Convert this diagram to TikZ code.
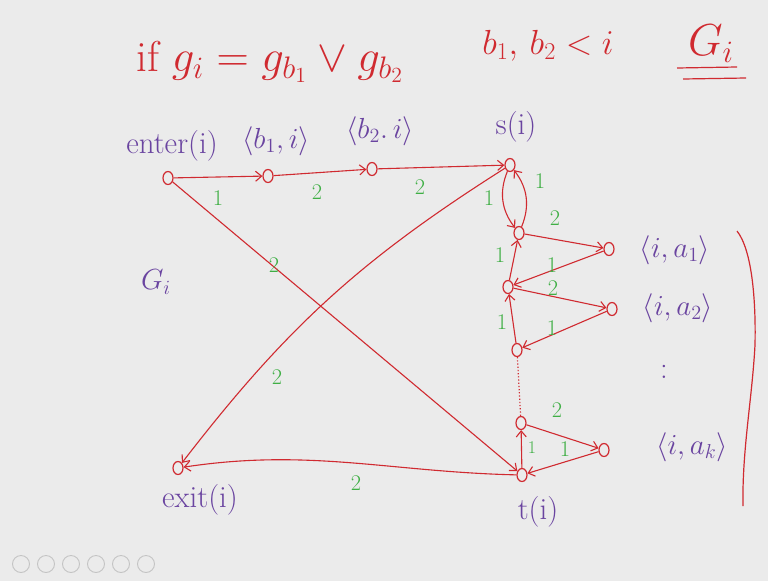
\documentclass[tikz,border=0pt]{standalone}
\usetikzlibrary{arrows.meta,shapes.geometric}
\definecolor{bg}{HTML}{EBEBEB}
\definecolor{ink}{HTML}{D02A30}
\definecolor{pur}{HTML}{6A44A0}
\definecolor{grn}{HTML}{3FAF45}
\definecolor{btn}{HTML}{C4C4C4}
\begin{document}
\begin{tikzpicture}[x=1pt,y=-1pt,
  vtx/.style={ellipse,draw=ink,line width=1.2pt,minimum width=10pt,minimum height=13pt,inner sep=0pt},
  arr/.style={draw=ink,line width=1.1pt,-{Straight Barb[length=6pt,width=10pt]}},
  lbl/.style={text=grn,font=\fontsize{16}{16}\selectfont,scale=1.4},
  ptxt/.style={text=pur,font=\fontsize{22}{22}\selectfont,scale=1.4},
  rtxt/.style={text=ink,font=\fontsize{24}{24}\selectfont}]
\fill[bg] (0,0) rectangle (768,581);
\useasboundingbox (0,0) rectangle (768,581);
% header
\node[rtxt,scale=1.8] (cond) at (270,62) {if $g_i = g_{b_1} \vee g_{b_2}$};
\node[rtxt,scale=1.4] (bb) at (548,46) {$b_1,\, b_2 < i$};
\node[rtxt,scale=1.8] (Gt) at (711,44) {$G_i$};
\draw[ink,line width=1.2pt] (677,68) -- (737,67);
\draw[ink,line width=1.2pt] (683,79) -- (746,78);
% vertices
\node[vtx] (enter) at (168,178) {};
\node[vtx] (b1) at (268,176) {};
\node[vtx] (b2) at (372,169) {};
\node[vtx] (s) at (510,165) {};
\node[vtx] (n1) at (519,233) {};
\node[vtx] (n2) at (508,287) {};
\node[vtx] (n3) at (517,350) {};
\node[vtx] (a1) at (609,249) {};
\node[vtx] (a2) at (612,309) {};
\node[vtx] (n4) at (521,423) {};
\node[vtx] (t) at (522,475) {};
\node[vtx] (ak) at (604,450) {};
\node[vtx] (exit) at (178,468) {};
% vertex labels
\node[ptxt] (lenter) at (172,146) {enter(i)};
\node[ptxt] (lb1) at (276,141) {$\langle b_1,i\rangle$};
\node[ptxt] (lb2) at (380,131) {$\langle b_2.\,i\rangle$};
\node[ptxt] (ls) at (516,127) {s(i)};
\node[ptxt] (la1) at (675,250) {$\langle i,a_1\rangle$};
\node[ptxt] (la2) at (678,308) {$\langle i,a_2\rangle$};
\node[ptxt] (ldots) at (664,372) {:};
\node[ptxt] (lak) at (692,447) {$\langle i,a_k\rangle$};
\node[ptxt] (lexit) at (200,500) {exit(i)};
\node[ptxt] (lt) at (538,512) {t(i)};
\node[ptxt] (lG) at (156,282) {$G_i$};
% edges
\draw[arr] (enter) -- (b1);
\draw[arr] (b1) -- (b2);
\draw[arr] (b2) -- (s);
\draw[arr] (enter) -- (t);
\draw[arr] (s) to[bend right=10] (exit);
\draw[arr] (s) to[bend right=30] (n1);
\draw[arr] (n1) to[bend right=30] (s);
\draw[arr] (n1) -- (a1);
\draw[arr] (a1) -- (n2);
\draw[arr] (n2) -- (n1);
\draw[arr] (n2) -- (a2);
\draw[arr] (a2) -- (n3);
\draw[arr] (n3) -- (n2);
\draw[ink,line width=1.2pt,dotted] (n3) -- (n4);
\draw[arr] (n4) -- (ak);
\draw[arr] (ak) -- (t);
\draw[arr] (t) -- (n4);
\draw[arr] (t) .. controls (390,472) and (310,448) .. (exit);
% edge weights
\node[lbl] (w1) at (218,198) {1};
\node[lbl] (w2) at (317,192) {2};
\node[lbl] (w3) at (420,187) {2};
\node[lbl] (w4) at (274,265) {2};
\node[lbl] (w5) at (277,377) {2};
\node[lbl] (w6) at (489,198) {1};
\node[lbl] (w7) at (540,181) {1};
\node[lbl] (w8) at (555,218) {2};
\node[lbl] (w9) at (552,265) {1};
\node[lbl] (w10) at (500,255) {1};
\node[lbl] (w11) at (553,288) {2};
\node[lbl] (w12) at (552,328) {1};
\node[lbl] (w13) at (502,322) {1};
\node[lbl] (w14) at (557,410) {2};
\node[lbl] (w15) at (565,449) {1};
\node[lbl,scale=0.8] (w16) at (532,448) {1};
\node[lbl] (w17) at (356,483) {2};
% brace
\draw[ink,line width=1.2pt] (737,231) .. controls (752,250) and (756,300) .. (755,345)
  .. controls (752,400) and (742,450) .. (743,506);
% toolbar
\foreach \i in {0,...,5} {
  \draw[btn,line width=0.9pt] (21+\i*25,564) circle (8.5);
}
\end{tikzpicture}
\end{document}
